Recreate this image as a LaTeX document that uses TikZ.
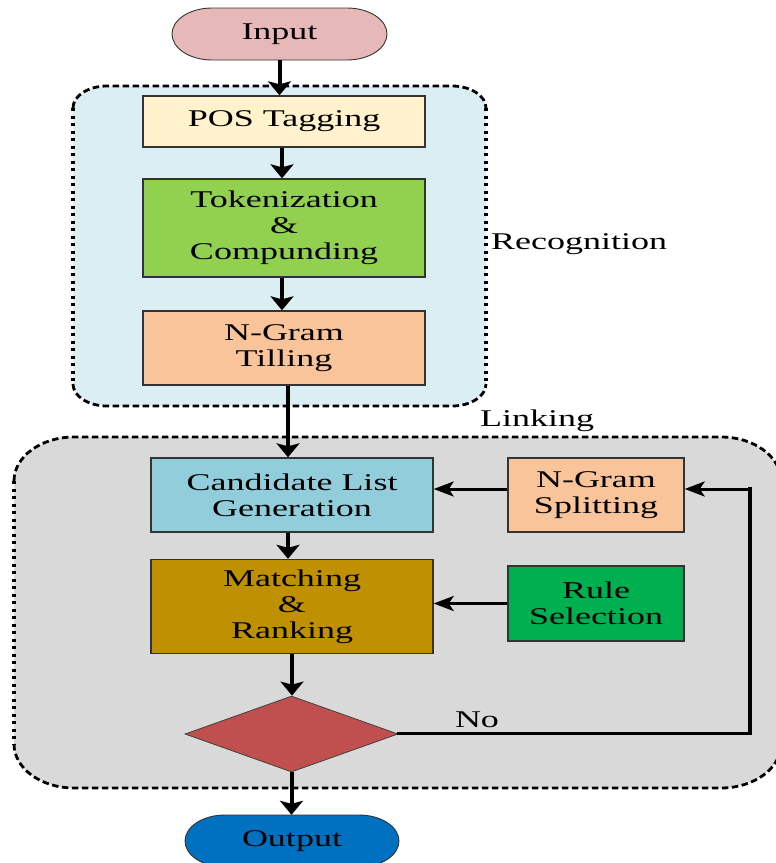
\documentclass[tikz,border=0pt]{standalone}
\usepackage{fontspec}
\setmainfont{Liberation Serif}[FakeStretch=1.5]
\usetikzlibrary{arrows.meta,shapes.geometric}

\definecolor{inputc}{HTML}{E6B9B8}
\definecolor{recogc}{HTML}{DAEEF3}
\definecolor{posc}{HTML}{FFF2CC}
\definecolor{tokc}{HTML}{92D050}
\definecolor{peachc}{HTML}{F9C49A}
\definecolor{linkc}{HTML}{D9D9D9}
\definecolor{candc}{HTML}{92CDDC}
\definecolor{matchc}{HTML}{BF9000}
\definecolor{rulec}{HTML}{00B050}
\definecolor{decc}{HTML}{C0504D}
\definecolor{outc}{HTML}{0070C0}

% rounded dashed panel: left, top, right, bottom, x radius, y radius, fill
\newcommand\panel[7]{%
  \fill[#7] ({#1+#5},-#2) -- ({#3-#5},-#2)
    arc[start angle=90,end angle=0,x radius=#5,y radius=#6] -- (#3,{-#4+#6})
    arc[start angle=0,end angle=-90,x radius=#5,y radius=#6] -- ({#1+#5},-#4)
    arc[start angle=270,end angle=180,x radius=#5,y radius=#6] -- (#1,{-#2-#6})
    arc[start angle=180,end angle=90,x radius=#5,y radius=#6] -- cycle;
  \draw[rimh] (#1,{-#2-#6}) arc[start angle=180,end angle=90,x radius=#5,y radius=#6]
    -- ({#3-#5},-#2) arc[start angle=90,end angle=0,x radius=#5,y radius=#6];
  \draw[rimh] (#1,{-#4+#6}) arc[start angle=180,end angle=270,x radius=#5,y radius=#6]
    -- ({#3-#5},-#4) arc[start angle=270,end angle=360,x radius=#5,y radius=#6];
  \draw[rimv] (#1,{-#2-#6}) -- (#1,{-#4+#6});
  \draw[rimv] (#3,{-#2-#6}) -- (#3,{-#4+#6});
}

% capsule terminal: left, top, right, bottom, end radius, fill
\newcommand\capsule[6]{%
  \filldraw[draw=black!80,line width=0.9pt,fill=#6]
    ({#1+#5},-#2) -- ({#3-#5},-#2)
    arc[start angle=90,end angle=-90,x radius=#5,y radius={(#4-#2)/2}]
    -- ({#1+#5},-#4)
    arc[start angle=270,end angle=90,x radius=#5,y radius={(#4-#2)/2}] -- cycle;
}

\begin{document}
\begin{tikzpicture}[x=1pt,y=1pt,
  txt/.style={font=\fontsize{24}{26}\selectfont, align=center, inner sep=0pt},
  box/.style={txt, draw=black!80, line width=1.4pt, minimum width=282pt},
  sidebox/.style={box, minimum width=176pt},
  term/.style={txt, minimum width=215pt, minimum height=52pt},
  tag/.style={txt},
  rimh/.style={line width=2.8pt, dash pattern=on 6.5pt off 3.5pt},
  rimv/.style={line width=3.6pt, dash pattern=on 3pt off 4.5pt},
  varr/.style={line width=4pt, -{Stealth[length=14pt,width=23pt,inset=3pt]}},
  harr/.style={line width=3pt, -{Stealth[length=20pt,width=15pt,inset=5pt]}},
  hline/.style={line width=3pt, line cap=rect},
  vline/.style={line width=4.5pt, line cap=rect}]
\useasboundingbox (0,0) rectangle (776,-863);
\clip (0,0) rectangle (776,-863);

% group panels
\panel{73}{86}{486}{406}{34}{22}{recogc}
\panel{14}{437}{781}{788}{60}{44}{linkc}

% terminals
\capsule{172}{8}{387}{60}{40}{inputc}
\node[term] (in) at (279.5,-34) {Input};
\capsule{185}{815}{399}{867}{40}{outc}
\node[term, minimum width=214pt] (out) at (292,-841) {Output};

% recognition steps
\node[box, fill=posc, minimum height=51pt] (pos) at (284,-121.5) {POS Tagging};
\node[box, fill=tokc, minimum height=98pt] (tok) at (284,-228) {Tokenization\\\&\\Compunding};
\node[box, fill=peachc, minimum height=74pt] (till) at (284,-348) {N-Gram\\Tilling};

% linking steps
\node[box, fill=candc, minimum height=74pt] (cand) at (292,-495) {Candidate List\\Generation};
\node[sidebox, fill=peachc, minimum height=74pt] (split) at (596,-495) {N-Gram\\Splitting};
\node[box, fill=matchc, minimum height=94pt] (match) at (292,-606.5) {Matching\\\&\\Ranking};
\node[sidebox, fill=rulec, minimum height=75pt] (rule) at (596,-603.5) {Rule\\Selection};
\node[diamond, draw=black!75, line width=0.8pt, fill=decc, inner sep=0pt,
      minimum width=213pt, minimum height=76pt] (dec) at (291.5,-734) {};

% labels
\node[tag, anchor=west] (rec) at (491,-244) {Recognition};
\node[tag] (lnk) at (537,-421) {Linking};
\node[tag] (no) at (477,-720) {No};

% main flow
\draw[varr] (in.south) -- (in.south |- pos.north);
\draw[varr] ([xshift=-2pt]pos.south) -- ([xshift=-2pt]tok.north);
\draw[varr] ([xshift=-2pt]tok.south) -- ([xshift=-2pt]till.north);
\draw[varr] ([xshift=4pt]till.south) -- ([xshift=4pt]till.south |- cand.north);
\draw[varr] ([xshift=-4pt]cand.south) -- ([xshift=-4pt]cand.south |- match.north);
\draw[varr] (match.south) -- (match.south |- dec.north);
\draw[varr] (dec.south) -- (dec.south |- out.north);

% side inputs
\draw[harr] ([yshift=6pt]split.west) -- ([yshift=6pt]split.west -| cand.east);
\draw[harr] (rule.west) -- (rule.west -| match.east);

% feedback loop on "No"
\coordinate (fbl) at (750,-733);
\coordinate (fbu) at (750,-489);
\draw[hline] ([yshift=1pt]dec.east) -- (fbl);
\draw[vline] (fbl) -- (fbu);
\draw[harr] (fbu) -- ([yshift=6pt]split.east);
\end{tikzpicture}
\end{document}
